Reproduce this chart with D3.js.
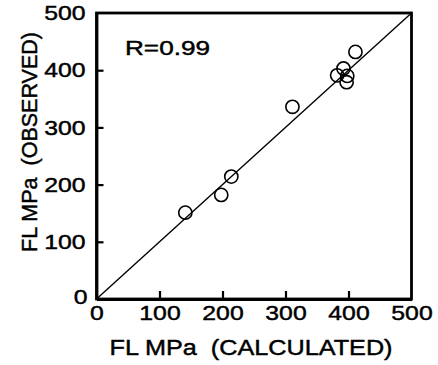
<!DOCTYPE html>
<html><head><meta charset="utf-8">
<script src="https://cdn.jsdelivr.net/npm/d3@7"></script>
<style>
html,body{margin:0;padding:0;background:#fff;}
svg{display:block;}
text{font-family:"Liberation Sans",Arial,Helvetica,sans-serif;fill:#000;stroke:#000;stroke-width:0.45px;white-space:pre;}
</style></head>
<body>
<svg id="chart" width="438" height="365"></svg>
<script>
const calculated = [141, 198, 214, 311, 382, 392, 398, 397, 411];
const observed   = [151, 182, 214, 336, 391, 403, 390, 379, 432];
const tickValues = [0, 100, 200, 300, 400, 500];
const xTitle = "FL MPa  (CALCULATED)";
const yTitle = "FL MPa  (OBSERVED)";
const rLabel = "R=0.99";

const svg = d3.select("#chart");
const x = d3.scaleLinear().domain([0, 500]).range([96.5, 411.5]);
const y = d3.scaleLinear().domain([0, 500]).range([299, 13]);
const stretch = 1.18;

function widen(sel, len){
  sel.each(function(){
    const w = len || this.getComputedTextLength()*stretch;
    d3.select(this).attr("textLength", w).attr("lengthAdjust","spacingAndGlyphs");
  });
}

// diagonal 1:1 line
svg.append("line")
  .attr("x1", x(0)).attr("y1", y(0)).attr("x2", x(500)).attr("y2", y(500))
  .attr("stroke","#000").attr("stroke-width",1.4);

// frame
svg.append("rect")
  .attr("x", x(0)).attr("y", y(500))
  .attr("width", x(500)-x(0)).attr("height", y(0)-y(500))
  .attr("fill","none").attr("stroke","#000").attr("stroke-width",2.8);

// axes
const gx = svg.append("g").attr("transform",`translate(0,${y(0)})`)
  .call(d3.axisBottom(x).tickValues(tickValues).tickSizeInner(-8).tickSizeOuter(0).tickPadding(6).tickFormat(d3.format("d")));
const gy = svg.append("g").attr("transform",`translate(${x(0)},0)`)
  .call(d3.axisLeft(y).tickValues(tickValues).tickSizeInner(-7).tickSizeOuter(0).tickPadding(11).tickFormat(d3.format("d")));
[gx, gy].forEach(g => {
  g.select(".domain").attr("stroke","#000").attr("stroke-width",2.8);
  g.selectAll(".tick line").attr("stroke","#000").attr("stroke-width",2.2);
  g.selectAll(".tick text").attr("font-size",21).attr("font-family","Liberation Sans, Arial, sans-serif").attr("fill","#000");
  g.selectAll(".tick").filter(d => d === 0 || d === 500).select("line").remove();
  widen(g.selectAll(".tick text"));
});
gx.selectAll(".tick text").attr("dy","0.71em");
gy.selectAll(".tick").filter(d => d === 0).select("text").attr("x", -9).attr("dy","0.2em");

// points
svg.append("g").selectAll("circle")
  .data(calculated.map((c,i)=>({c, o: observed[i]})))
  .join("circle")
  .attr("cx", d => x(d.c)).attr("cy", d => y(d.o)).attr("r", 6.6)
  .attr("fill","none").attr("stroke","#000").attr("stroke-width",1.6);

// R label
svg.append("text").attr("x",125).attr("y",55).attr("font-size",21).text(rLabel).call(widen, 85);

// axis titles
svg.append("text").attr("x",251).attr("y",355).attr("text-anchor","middle").attr("font-size",22).text(xTitle).call(widen, 283);
svg.append("text").attr("transform","translate(37,142) rotate(-90)").attr("text-anchor","middle").attr("font-size",22).text(yTitle).call(widen, 220);
</script>
</body></html>
